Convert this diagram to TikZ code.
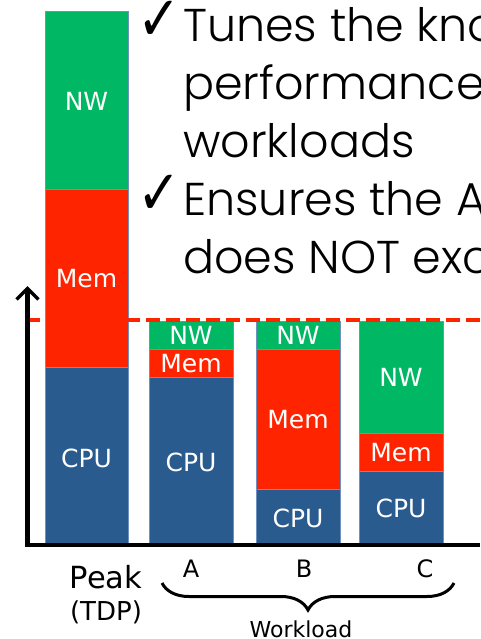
\documentclass[tikz,border=0pt]{standalone}
\usepackage{fontspec}
\usepackage{graphicx}
\setmainfont{Poppins Light}
\newfontfamily\lblfont{DejaVu Sans}
\newfontfamily\symfont{DejaVu Sans}
\usetikzlibrary{arrows.meta,decorations.pathreplacing}
\definecolor{cpublue}{HTML}{2A5B8E}
\definecolor{memred}{HTML}{FF2400}
\definecolor{nwgreen}{HTML}{00B763}
\definecolor{edgeblue}{HTML}{7090C0}
\newcommand{\tallcheck}{\scalebox{1}[1.2]{✓}}
\tikzset{
  seg/.style={draw=edgeblue, line width=0.8pt},
  cpu/.style={seg, fill=cpublue},
  mem/.style={seg, fill=memred},
  nw/.style={seg, fill=nwgreen},
  barlbl/.style={text=white, font=\lblfont\fontsize{25}{25}\selectfont, inner sep=0pt},
  axislbl/.style={font=\lblfont\fontsize{24}{24}\selectfont, inner sep=0pt, anchor=base},
  bullet/.style={font=\fontsize{46}{46}\selectfont, inner sep=0pt, anchor=base west},
  tick/.style={font=\symfont\fontsize{52}{52}\selectfont, inner sep=0pt, anchor=base east},
  axis/.style={line width=4.5pt, black},
}
\begin{document}
\begin{tikzpicture}[x=1pt,y=-1pt]
\useasboundingbox (0,0) rectangle (480,639);
\fill[white] (0,0) rectangle (480,639);

% bullet text
\node[bullet] (l1) at (183,42)  {Tunes the kno};
\node[bullet] (l2) at (183,100) {performance};
\node[bullet] (l3) at (183,158) {workloads};
\node[bullet] (l4) at (183,215) {Ensures the A};
\node[bullet] (l5) at (183,273) {does NOT exc};
\node[tick]   (t1) at (181,41)  {\tallcheck};
\node[tick]   (t2) at (181,214) {\tallcheck};

% stacked bars: peak
\path[cpu] (45,367) rectangle (128,545);
\path[mem] (45,189) rectangle (128,367);
\path[nw]  (45,11)  rectangle (128,189);
\node[barlbl] (pcpu) at (86.5,458) {CPU};
\node[barlbl] (pmem) at (86.5,279) {Mem};
\node[barlbl] (pnw)  at (86.5,101) {NW};

% workload A
\path[cpu] (149,377) rectangle (233,545);
\path[mem] (149,349) rectangle (233,377);
\path[nw]  (149,321) rectangle (233,349);
\node[barlbl] (acpu) at (191,462) {CPU};
\node[barlbl] (amem) at (191,364) {Mem};
\node[barlbl] (anw)  at (191,335) {NW};

% workload B
\path[cpu] (256,489) rectangle (340,545);
\path[mem] (256,349) rectangle (340,489);
\path[nw]  (256,321) rectangle (340,349);
\node[barlbl] (bcpu) at (298,518) {CPU};
\node[barlbl] (bmem) at (298,420) {Mem};
\node[barlbl] (bnw)  at (298,335) {NW};

% workload C
\path[cpu] (359,471) rectangle (443,545);
\path[mem] (359,433) rectangle (443,471);
\path[nw]  (359,321) rectangle (443,433);
\node[barlbl] (ccpu) at (401,508) {CPU};
\node[barlbl] (cmem) at (401,453) {Mem};
\node[barlbl] (cnw)  at (401,377) {NW};

% power cap line
\coordinate (capL) at (26,320);
\coordinate (capR) at (480,320);
\draw[memred, line width=4pt, dash pattern=on 14pt off 6pt] (capL) -- (capR);

% axes
\coordinate (origin) at (27.5,545);
\coordinate (ytop) at (27.5,286);
\coordinate (xend) at (480,545);
\draw[axis, -{Straight Barb[length=11pt,width=22pt,line width=3.5pt]}] (origin) -- (ytop);
\draw[axis] (25.25,545) -- (xend);

% category labels
\node[font=\lblfont\fontsize{30.5}{30.5}\selectfont, inner sep=0pt, anchor=base] (peak) at (106,588) {Peak};
\node[font=\lblfont\fontsize{26}{26}\selectfont, inner sep=0pt, anchor=base] (tdp) at (106,620) {(TDP)};
\node[axislbl] (la) at (191,577) {A};
\node[axislbl] (lb) at (304,577) {B};
\node[axislbl] (lc) at (425,577) {C};

% workload brace
\coordinate (brL) at (162,583);
\coordinate (brR) at (454,583);
\draw[line width=3pt, decorate, decoration={brace, mirror, amplitude=27pt, aspect=0.5}] (brL) -- (brR);
\node[font=\lblfont\fontsize{22}{22}\selectfont, inner sep=0pt, anchor=base] (wl) at (301,637) {Workload};
\end{tikzpicture}
\end{document}
